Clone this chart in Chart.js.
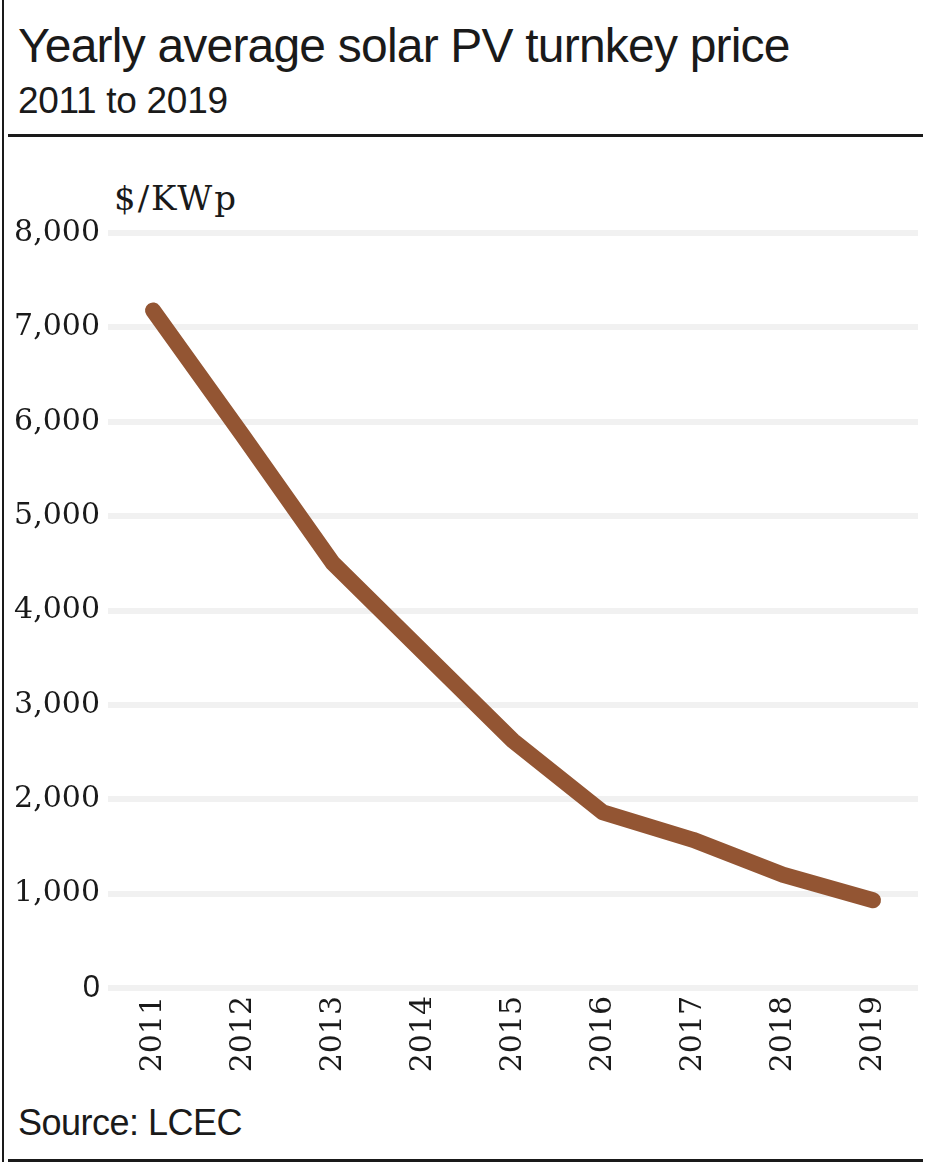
<!DOCTYPE html>
<html>
<head>
<meta charset="utf-8">
<script src="https://cdn.jsdelivr.net/npm/chart.js@4"></script>
<style>
  body { margin: 0; background: #fff; width: 936px; height: 1164px; position: relative; overflow: hidden; font-family: "Liberation Sans", Arial, sans-serif; color: #1a1a1a; }
  #title { position: absolute; left: 18px; top: 18px; font-size: 48px; letter-spacing: -0.8px; white-space: nowrap; }
  #subtitle { position: absolute; left: 18px; top: 80px; font-size: 37px; letter-spacing: -0.3px; }
  #unit { position: absolute; left: 114px; top: 178px; font-family: "DejaVu Serif", serif; font-size: 34px; letter-spacing: 2px; }
  #source { position: absolute; left: 18px; top: 1102px; font-size: 36px; letter-spacing: -0.5px; }
  .rule { position: absolute; background: #1a1a1a; }
  #wrap { position: absolute; left: 0; top: 140px; width: 936px; height: 960px; }
</style>
</head>
<body>
<div class="rule" style="left:2px; top:0; width:2px; height:1162px;"></div>
<div class="rule" style="left:8px; top:134px; width:915px; height:3px;"></div>
<div class="rule" style="left:8px; top:1159px; width:915px; height:3px;"></div>
<div id="title">Yearly average solar PV turnkey price</div>
<div id="subtitle">2011 to 2019</div>
<div id="unit">$/KWp</div>
<div id="source">Source: LCEC</div>
<div id="wrap"><canvas id="grafico"></canvas></div>
<script>
// Datos
const years = ["2011", "2012", "2013", "2014", "2015", "2016", "2017", "2018", "2019"];
const prices = [7180, 5850, 4500, 3560, 2620, 1860, 1570, 1200, 930];
const yTicks = [0, 1000, 2000, 3000, 4000, 5000, 6000, 7000, 8000];

new Chart(document.getElementById("grafico").getContext("2d"), {
    type: "line",
    data: {
        labels: years,
        datasets: [
            {
                label: "Price",
                data: prices,
                borderColor: "#935533",
                borderWidth: 16,
                borderCapStyle: "round",
                borderJoinStyle: "round",
                pointRadius: 0,
                tension: 0,
                fill: false
            }
        ]
    },
    options: {
        responsive: true,
        maintainAspectRatio: false,
        animation: false,
        layout: {
            padding: { top: 93, right: 18, left: 0, bottom: 0 }
        },
        plugins: {
            legend: { display: false },
            tooltip: { enabled: false }
        },
        scales: {
            x: {
                offset: true,
                afterFit: (scale) => { scale.height = 112; },
                grid: { display: false },
                border: { display: false },
                ticks: {
                    minRotation: 90,
                    maxRotation: 90,
                    padding: 0,
                    color: "#1a1a1a",
                    font: { family: "DejaVu Serif", size: 30 }
                }
            },
            y: {
                min: 0,
                max: 8000,
                afterFit: (scale) => { scale.width = 108; },
                afterBuildTicks: (scale) => { scale.ticks = yTicks.map((v) => ({ value: v })); },
                border: { display: false },
                grid: {
                    color: "#f1f1f1",
                    lineWidth: 6,
                    drawTicks: false
                },
                ticks: {
                    padding: 8,
                    color: "#1a1a1a",
                    callback: (v) => v.toLocaleString("en-US"),
                    font: (ctx) => (ctx.tick && ctx.tick.value === 0)
                        ? { family: "Liberation Sans", size: 31 }
                        : { family: "DejaVu Serif", size: 30 }
                }
            }
        }
    }
});
</script>
</body>
</html>
